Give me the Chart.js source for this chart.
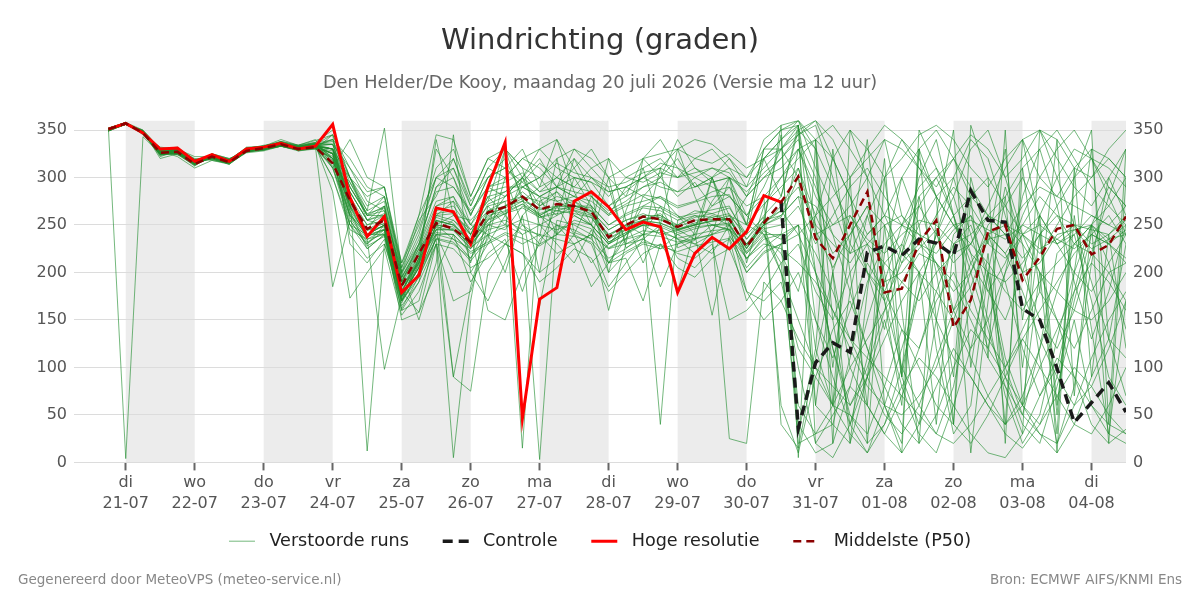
<!DOCTYPE html>
<html>
<head>
<meta charset="utf-8">
<title>Windrichting (graden)</title>
<script src="https://cdn.jsdelivr.net/npm/chart.js@4.4.1/dist/chart.umd.min.js"></script>
<style>
  html, body { margin: 0; padding: 0; background: #fff; }
  #wrap { width: 1200px; height: 600px; }
</style>
</head>
<body>
<div id="wrap"><canvas id="chart" width="1200" height="600"></canvas></div>
<script>
const ctx = document.querySelector('#chart');

// tijd in uren sinds ma 20-07 00:00, om de 6 uur
const firstHour = 18;
const stepHours = 6;
const hresStartHour = 18;
const controlStartHour = 252;

const dayNames = ['di', 'wo', 'do', 'vr', 'za', 'zo', 'ma', 'di', 'wo', 'do', 'vr', 'za', 'zo', 'ma', 'di'];
const dayDates = ['21-07', '22-07', '23-07', '24-07', '25-07', '26-07', '27-07', '28-07', '29-07', '30-07', '31-07', '01-08', '02-08', '03-08', '04-08'];
const yTicks = [0, 50, 100, 150, 200, 250, 300, 350];

const titleText = 'Windrichting (graden)';
const subtitleText = 'Den Helder/De Kooy, maandag 20 juli 2026 (Versie ma 12 uur)';
const footerLeft = 'Gegenereerd door MeteoVPS (meteo-service.nl)';
const footerRight = 'Bron: ECMWF AIFS/KNMI Ens';

// Hoge resolutie (t=18 .. 252)
const hres = [351, 357, 347, 330, 331, 317, 324, 317, 330, 332,
  336, 330, 333, 356, 279, 238, 259, 179, 197, 268,
  264, 230, 290, 337, 46, 172, 184, 275, 285, 269,
  245, 253, 248, 179, 220, 237, 225, 243, 281, 274];

// Controle (t=252 .. 372), daarvoor onder de hoge resolutie
const control = [274, 36, 105, 126, 116, 221, 228, 218, 235, 231,
  218, 286, 255, 253, 162, 150, 99, 42, 63, 84, 53];

// Middelste (P50) (t=18 .. 372)
const p50 = [351, 357, 347, 326, 327, 314, 322, 316, 328, 331,
  335, 330, 332, 315, 276, 246, 255, 186, 220, 252,
  246, 232, 263, 269, 280, 266, 272, 270, 264, 237,
  250, 259, 256, 248, 255, 256, 256, 227, 252, 274,
  301, 236, 215, 250, 285, 179, 183, 232, 255, 142,
  171, 243, 250, 192, 216, 246, 250, 219, 229, 259];

// Verstoorde runs (t=18 .. 372)
const perturbedRuns = [
  [350, 4, 343, 325, 330, 320, 318, 314, 330, 334, 336, 332, 336,
   340, 300, 255, 250, 175, 205, 250, 235, 225,
   255, 280, 300, 270, 285, 260, 250, 230, 240, 255, 262, 245, 250, 260, 255, 230, 250,
   270, 290, 250, 230, 210, 240, 260, 250, 230, 220, 245, 260, 230, 215, 240, 250, 235, 225, 240, 230, 245],
  [352, 356, 349, 320, 325, 312, 325, 320, 327, 330, 338, 328, 330,
   320, 270, 235, 240, 165, 190, 270, 280, 240,
   280, 260, 290, 300, 275, 265, 250, 210, 235, 280, 270, 260, 240, 275, 300, 250, 330,
   350, 355, 60, 40, 20, 90, 150, 80, 30, 10, 60, 120, 200, 90, 40, 20, 80, 150, 60, 30, 20],
  [349, 358, 350, 330, 332, 318, 320, 318, 332, 333, 340, 334, 340,
   310, 260, 245, 270, 195, 230, 290, 300, 250,
   240, 330, 275, 290, 340, 285, 250, 320, 255, 210, 250, 330, 280, 240, 300, 210, 270,
   300, 330, 280, 250, 270, 300, 340, 260, 230, 210, 180, 200, 250, 270, 300, 260, 230, 240, 260, 250, 270],
  [351, 357, 346, 328, 322, 310, 318, 315, 326, 328, 333, 329, 330,
   345, 230, 210, 235, 160, 170, 240, 200, 200,
   230, 260, 240, 250, 230, 210, 245, 200, 220, 230, 225, 240, 230, 220, 250, 180, 170,
   190, 120, 90, 60, 50, 30, 80, 140, 100, 60, 40, 20, 50, 90, 130, 100, 70, 40, 30, 60, 100],
  [350, 356, 348, 322, 328, 314, 324, 318, 328, 332, 334, 331, 332,
   300, 250, 230, 245, 170, 215, 260, 275, 210,
   290, 280, 300, 260, 250, 240, 280, 265, 275, 290, 300, 280, 295, 270, 280, 260, 290,
   330, 345, 355, 300, 230, 200, 170, 210, 250, 280, 300, 240, 180, 150, 200, 260, 300, 330, 320, 290, 270],
  [352, 358, 345, 332, 330, 322, 322, 319, 331, 330, 336, 333, 335,
   335, 310, 275, 265, 200, 240, 300, 310, 260,
   300, 320, 280, 200, 290, 330, 310, 290, 230, 320, 300, 340, 310, 300, 250, 280, 300,
   320, 340, 300, 200, 100, 60, 30, 70, 120, 180, 230, 250, 200, 110, 60, 40, 90, 170, 240, 260, 230],
  [350, 357, 348, 326, 326, 316, 321, 317, 329, 331, 335, 330, 334,
   330, 280, 240, 250, 190, 225, 250, 260, 245,
   265, 270, 285, 270, 280, 275, 265, 245, 255, 262, 255, 250, 260, 258, 262, 235, 255,
   260, 280, 270, 240, 220, 230, 250, 260, 240, 230, 250, 255, 245, 235, 250, 240, 230, 245, 250, 235, 240],
  [351, 357, 347, 324, 327, 315, 323, 316, 328, 329, 334, 330, 331,
   325, 240, 215, 230, 170, 195, 235, 90, 75,
   200, 230, 250, 230, 270, 240, 210, 230, 250, 240, 270, 235, 220, 245, 260, 250, 240,
   210, 40, 10, 20, 80, 150, 210, 230, 200, 150, 110, 90, 60, 40, 70, 120, 180, 230, 250, 230, 210],
  [349, 356, 350, 330, 331, 319, 319, 315, 330, 333, 337, 333, 337,
   315, 295, 260, 265, 185, 210, 340, 260, 255,
   275, 330, 310, 250, 260, 320, 285, 200, 265, 310, 250, 180, 245, 300, 260, 240, 320,
   280, 350, 330, 290, 250, 200, 180, 220, 270, 300, 320, 280, 260, 240, 270, 290, 280, 270, 260, 250, 240],
  [352, 357, 346, 326, 329, 313, 324, 319, 328, 330, 334, 329, 333,
   330, 275, 250, 255, 178, 220, 245, 255, 235,
   260, 265, 275, 260, 270, 268, 262, 240, 248, 255, 258, 246, 250, 254, 257, 228, 250,
   258, 300, 240, 250, 260, 235, 220, 240, 255, 250, 230, 240, 260, 250, 240, 225, 235, 250, 245, 240, 255],
  [350, 358, 347, 329, 324, 317, 320, 314, 327, 332, 336, 332, 334,
   285, 173, 200, 225, 155, 180, 230, 170, 180,
   240, 230, 220, 200, 215, 240, 230, 185, 210, 235, 250, 215, 205, 225, 235, 170, 200,
   230, 20, 30, 60, 100, 130, 160, 190, 220, 210, 190, 150, 110, 80, 50, 30, 20, 60, 110, 150, 180],
  [351, 356, 349, 327, 330, 316, 322, 317, 330, 329, 335, 331, 333,
   340, 320, 290, 280, 210, 250, 310, 330, 280,
   320, 310, 330, 290, 300, 320, 300, 280, 300, 310, 320, 300, 320, 330, 310, 300, 330,
   350, 360, 340, 320, 350, 330, 300, 320, 345, 355, 340, 310, 290, 320, 340, 300, 280, 310, 330, 320, 300],
  [350, 357, 348, 325, 326, 315, 323, 318, 328, 331, 334, 330, 333,
   330, 265, 240, 250, 182, 210, 255, 250, 232,
   262, 268, 278, 266, 270, 270, 264, 238, 250, 258, 256, 248, 255, 256, 255, 228, 252,
   265, 310, 245, 205, 240, 270, 190, 200, 225, 245, 160, 185, 235, 240, 200, 210, 240, 245, 225, 235, 250],
  [349, 356, 347, 330, 329, 319, 321, 316, 329, 332, 336, 333, 336,
   320, 300, 265, 352, 200, 150, 210, 345, 200,
   170, 210, 260, 280, 240, 300, 270, 210, 240, 270, 280, 260, 250, 270, 290, 250, 330,
   330, 355, 200, 120, 50, 20, 40, 100, 180, 240, 280, 330, 350, 300, 240, 200, 150, 90, 40, 20, 35],
  [352, 357, 348, 323, 327, 314, 325, 320, 327, 330, 333, 328, 331,
   310, 250, 225, 240, 168, 200, 235, 230, 215,
   240, 200, 260, 165, 255, 250, 240, 160, 230, 240, 185, 230, 240, 155, 238, 215, 230,
   225, 210, 190, 160, 120, 80, 60, 50, 70, 100, 150, 200, 240, 250, 230, 200, 180, 160, 150, 170, 200],
  [351, 358, 346, 328, 325, 318, 319, 315, 331, 333, 338, 334, 339,
   345, 300, 270, 280, 205, 260, 300, 290, 265,
   290, 300, 320, 310, 290, 280, 300, 285, 290, 300, 315, 310, 300, 290, 280, 260, 240,
   200, 150, 100, 60, 30, 10, 40, 80, 110, 90, 60, 30, 10, 5, 30, 70, 110, 90, 60, 40, 30],
  [350, 357, 349, 326, 331, 316, 322, 317, 329, 330, 335, 331, 332,
   325, 280, 12, 230, 180, 158, 230, 5, 170,
   270, 250, 300, 330, 340, 310, 280, 260, 290, 280, 300, 320, 290, 300, 310, 280, 320,
   340, 360, 310, 270, 220, 260, 300, 340, 320, 280, 250, 230, 270, 310, 340, 350, 320, 290, 270, 300, 330],
  [351, 356, 347, 327, 328, 315, 320, 316, 328, 331, 333, 329, 333,
   300, 245, 235, 98, 175, 205, 245, 245, 230,
   250, 245, 270, 260, 240, 255, 250, 230, 245, 250, 240, 245, 235, 250, 245, 220, 240,
   240, 250, 220, 180, 130, 90, 50, 30, 60, 110, 160, 210, 240, 220, 180, 130, 90, 60, 80, 120, 170],
  [350, 357, 348, 324, 327, 317, 324, 318, 330, 332, 335, 331, 334,
   340, 290, 260, 260, 190, 230, 275, 280, 250,
   285, 290, 290, 280, 290, 280, 275, 260, 270, 275, 280, 270, 275, 285, 290, 270, 280,
   300, 320, 340, 355, 330, 300, 260, 220, 200, 230, 260, 280, 300, 270, 240, 220, 250, 280, 300, 320, 300],
  [352, 357, 347, 329, 326, 314, 321, 315, 327, 329, 334, 330, 332,
   185, 255, 230, 250, 172, 215, 240, 240, 190,
   220, 235, 180, 235, 250, 230, 185, 210, 215, 170, 230, 220, 215, 230, 150, 160, 180,
   210, 230, 180, 150, 200, 230, 210, 190, 170, 200, 220, 230, 210, 180, 160, 190, 210, 230, 220, 200, 210],
  [350, 356, 348, 327, 329, 318, 320, 317, 329, 331, 336, 332, 335,
   330, 290, 260, 270, 195, 225, 265, 270, 245,
   270, 275, 15, 275, 285, 270, 270, 250, 260, 268, 265, 255, 265, 262, 268, 240, 258,
   60, 10, 90, 140, 170, 120, 80, 40, 20, 50, 100, 140, 120, 90, 60, 30, 10, 40, 90, 130, 110],
  [351, 358, 346, 325, 324, 313, 323, 318, 328, 330, 334, 330, 333,
   335, 270, 240, 240, 175, 205, 250, 248, 228,
   255, 262, 272, 258, 265, 262, 258, 232, 242, 250, 250, 242, 248, 250, 250, 222, 246,
   250, 270, 230, 260, 290, 310, 280, 250, 270, 240, 210, 230, 260, 240, 215, 240, 260, 250, 230, 240, 260],
  [349, 357, 349, 331, 330, 319, 321, 316, 330, 332, 337, 333, 336,
   320, 285, 255, 270, 190, 220, 330, 300, 260,
   300, 310, 295, 315, 300, 290, 310, 320, 300, 295, 305, 300, 310, 295, 300, 290, 310,
   330, 350, 360, 320, 280, 240, 260, 300, 330, 350, 320, 290, 260, 280, 310, 330, 350, 320, 290, 270, 300],
  [351, 357, 347, 328, 328, 316, 322, 318, 328, 330, 335, 330, 333,
   325, 260, 240, 245, 150, 158, 200, 240, 220,
   230, 240, 230, 240, 220, 230, 240, 225, 230, 235, 225, 230, 235, 240, 25, 20, 190,
   170, 130, 100, 80, 60, 90, 130, 170, 200, 180, 150, 110, 70, 40, 60, 100, 140, 180, 210, 190, 160],
  [350, 356, 348, 326, 327, 315, 320, 314, 327, 331, 334, 330, 333,
   330, 280, 250, 260, 185, 215, 260, 255, 240,
   160, 150, 200, 230, 240, 260, 250, 230, 240, 250, 40, 255, 260, 250, 245, 230, 255,
   265, 240, 200, 160, 130, 110, 90, 70, 50, 30, 20, 40, 70, 100, 130, 160, 190, 220, 240, 230, 215],
  [352, 358, 348, 325, 330, 317, 324, 319, 330, 332, 336, 331, 334,
   310, 340, 300, 290, 200, 255, 280, 320, 270,
   310, 300, 320, 330, 310, 300, 295, 285, 290, 300, 310, 330, 320, 315, 325, 310, 320,
   340, 355, 20, 50, 80, 60, 30, 10, 40, 80, 120, 90, 60, 30, 15, 40, 70, 100, 80, 50, 30],
  [350, 357, 347, 327, 325, 315, 322, 316, 329, 330, 333, 330, 332,
   320, 250, 240, 250, 170, 200, 240, 235, 215,
   250, 255, 245, 240, 235, 230, 240, 225, 235, 240, 238, 232, 236, 240, 245, 200, 220,
   230, 240, 260, 280, 300, 320, 340, 330, 310, 280, 250, 220, 200, 190, 210, 240, 270, 300, 320, 310, 290],
  [351, 357, 349, 329, 331, 318, 321, 317, 331, 333, 338, 334, 337,
   350, 300, 280, 290, 210, 260, 345, 340, 280,
   320, 330, 310, 300, 320, 330, 320, 300, 310, 320, 325, 330, 340, 335, 320, 300, 320,
   330, 300, 150, 90, 40, 10, 60, 120, 180, 240, 300, 340, 320, 260, 200, 150, 120, 160, 220, 280, 330],
  [350, 356, 346, 324, 326, 314, 323, 318, 327, 329, 333, 329, 331,
   315, 260, 235, 245, 170, 210, 245, 245, 225,
   245, 250, 240, 3, 250, 245, 235, 215, 225, 240, 245, 235, 230, 240, 250, 215, 235,
   240, 60, 30, 40, 110, 190, 230, 250, 240, 210, 160, 120, 150, 200, 240, 260, 230, 200, 180, 210, 240],
  [351, 357, 348, 326, 329, 316, 322, 317, 329, 331, 335, 331, 334,
   325, 275, 245, 255, 180, 215, 255, 90, 185,
   250, 270, 280, 275, 260, 270, 265, 245, 255, 260, 260, 250, 258, 262, 255, 230, 250,
   260, 280, 200, 120, 60, 100, 160, 230, 280, 300, 260, 210, 180, 210, 260, 300, 330, 350, 320, 280, 240],
  [351, 357, 348, 327, 328, 316, 322, 316, 329, 331, 335, 330, 333,
   330, 275, 240, 250, 180, 210, 255, 250, 235,
   265, 275, 280, 260, 270, 275, 260, 240, 250, 255, 260, 245, 250, 255, 260, 225, 250,
   355, 5, 340, 60, 300, 20, 250, 90, 330, 150, 40, 280, 110, 350, 60, 200, 30, 310, 90, 240, 120],
  [350, 356, 347, 325, 327, 315, 321, 317, 328, 330, 334, 330, 332,
   328, 270, 245, 248, 185, 212, 258, 252, 230,
   258, 270, 275, 268, 265, 270, 268, 235, 245, 255, 252, 245, 252, 258, 250, 225, 255,
   345, 30, 120, 330, 200, 60, 300, 160, 20, 260, 350, 100, 220, 40, 310, 180, 340, 70, 250, 20, 300],
  [352, 358, 346, 328, 330, 317, 323, 318, 330, 332, 336, 331, 334,
   335, 285, 255, 262, 192, 222, 262, 265, 240,
   272, 280, 290, 280, 275, 280, 270, 250, 262, 270, 268, 258, 262, 266, 270, 235, 260,
   280, 355, 250, 100, 230, 340, 170, 60, 280, 200, 90, 300, 230, 330, 150, 260, 60, 200, 330, 130, 230],
  [349, 357, 348, 326, 326, 314, 322, 317, 328, 330, 335, 330, 333,
   322, 268, 238, 245, 176, 208, 250, 246, 228,
   252, 262, 268, 258, 262, 265, 258, 232, 242, 250, 248, 240, 246, 250, 252, 220, 244,
   235, 250, 60, 200, 20, 180, 320, 90, 200, 40, 230, 10, 170, 280, 100, 240, 50, 260, 140, 30, 170],
  [351, 357, 347, 325, 329, 317, 321, 317, 328, 331, 334, 330, 333,
   330, 300, 260, 280, 200, 230, 290, 310, 270,
   310, 330, 300, 320, 290, 310, 330, 300, 280, 320, 340, 310, 290, 300, 320, 290, 340,
   355, 360, 330, 20, 350, 300, 60, 10, 330, 280, 40, 355, 300, 20, 340, 250, 10, 300, 350, 40, 330],
  [350, 357, 348, 327, 327, 316, 322, 318, 329, 330, 335, 331, 333,
   325, 265, 225, 240, 160, 190, 230, 225, 205,
   215, 230, 220, 190, 205, 225, 215, 180, 200, 220, 230, 205, 195, 215, 225, 180, 150,
   170, 200, 150, 110, 160, 210, 180, 140, 120, 170, 200, 160, 130, 100, 140, 180, 150, 120, 160, 200, 170],
  [352, 357, 347, 328, 326, 315, 323, 317, 329, 331, 335, 331, 333,
   330, 285, 255, 260, 188, 218, 260, 262, 240,
   280, 285, 300, 285, 300, 290, 285, 270, 280, 290, 295, 285, 290, 295, 300, 260, 280,
   40, 15, 110, 200, 260, 230, 170, 100, 60, 30, 80, 170, 240, 190, 120, 70, 100, 180, 250, 210, 140],
  [350, 356, 348, 326, 328, 316, 321, 316, 328, 330, 334, 330, 332,
   318, 262, 238, 246, 174, 206, 248, 244, 226,
   240, 248, 256, 250, 245, 252, 246, 226, 236, 244, 242, 236, 240, 244, 246, 214, 238,
   220, 180, 260, 320, 280, 200, 140, 220, 300, 340, 260, 180, 120, 200, 280, 330, 270, 190, 130, 180, 250],
  [351, 358, 347, 327, 330, 317, 323, 318, 330, 332, 336, 332, 335,
   338, 295, 265, 275, 198, 235, 285, 290, 262,
   290, 295, 305, 285, 290, 300, 295, 270, 285, 300, 290, 285, 300, 310, 305, 280, 300,
   310, 330, 290, 240, 180, 120, 60, 20, 350, 310, 260, 200, 140, 80, 30, 350, 300, 250, 190, 130, 70],
  [350, 357, 346, 324, 325, 313, 322, 316, 327, 329, 333, 329, 331,
   312, 255, 228, 238, 162, 196, 236, 232, 212,
   235, 300, 250, 238, 320, 242, 236, 300, 226, 236, 310, 226, 234, 300, 240, 205, 226,
   240, 330, 340, 150, 40, 90, 220, 300, 250, 120, 30, 60, 200, 290, 230, 110, 20, 80, 210, 300, 260],
  [351, 357, 349, 329, 329, 318, 320, 317, 330, 332, 337, 333, 336,
   335, 290, 262, 268, 194, 228, 270, 275, 250,
   275, 285, 295, 280, 290, 285, 280, 262, 272, 282, 278, 268, 274, 280, 282, 250, 272,
   290, 310, 260, 220, 240, 270, 250, 210, 230, 260, 290, 270, 240, 220, 250, 280, 260, 230, 250, 270, 250],
  [350, 356, 347, 325, 327, 315, 322, 317, 328, 330, 334, 330, 332,
   326, 272, 244, 252, 180, 212, 254, 250, 232,
   256, 264, 272, 262, 268, 266, 260, 236, 246, 254, 252, 244, 250, 254, 256, 226, 248,
   200, 100, 20, 5, 40, 110, 190, 250, 290, 310, 280, 220, 150, 70, 20, 50, 130, 200, 250, 290, 270],
  [352, 358, 348, 328, 331, 318, 324, 319, 331, 333, 337, 332, 335,
   345, 310, 285, 290, 205, 245, 300, 320, 275,
   300, 310, 290, 300, 315, 305, 300, 290, 295, 305, 310, 300, 305, 310, 300, 285, 305,
   320, 345, 360, 340, 300, 330, 355, 340, 310, 290, 320, 345, 330, 300, 320, 350, 340, 310, 300, 330, 350],
  [349, 356, 348, 325, 326, 314, 321, 316, 328, 330, 334, 329, 332,
   320, 258, 232, 242, 170, 200, 242, 240, 222,
   232, 242, 236, 228, 240, 238, 232, 210, 222, 232, 228, 222, 228, 232, 236, 200, 222,
   230, 250, 120, 60, 180, 260, 200, 90, 40, 150, 240, 260, 190, 100, 50, 120, 220, 240, 170, 90, 60]
];

Chart.defaults.font.family = "'DejaVu Sans', sans-serif";

function toPoints(values, startHour) {
    return values.map((v, i) => ({x: startHour + i * stepHours, y: v}));
}

const memberColor = 'rgba(30, 140, 45, 0.62)';

function memberDataset(values, label) {
    return {
        label: label,
        data: toPoints(values, firstHour),
        borderColor: memberColor,
        backgroundColor: memberColor,
        borderWidth: 1,
        pointRadius: 0,
        order: 10
    };
}

let datasets = [
    memberDataset(perturbedRuns[0], 'Verstoorde runs'),
    {
        label: 'Controle',
        data: toPoints(control, controlStartHour),
        borderColor: '#1a1a1a',
        backgroundColor: '#1a1a1a',
        borderWidth: 3.5,
        borderDash: [10, 6],
        pointRadius: 0,
        order: 3
    },
    {
        label: 'Hoge resolutie',
        data: toPoints(hres, hresStartHour),
        borderColor: '#ff0000',
        backgroundColor: '#ff0000',
        borderWidth: 3,
        pointRadius: 0,
        order: 2
    },
    {
        label: 'Middelste (P50)',
        data: toPoints(p50, firstHour),
        borderColor: '#8b0000',
        backgroundColor: '#8b0000',
        borderWidth: 2.5,
        borderDash: [8, 5],
        pointRadius: 0,
        order: 1
    }
];
for (let i = 1; i < perturbedRuns.length; i++) {
    datasets.push(memberDataset(perturbedRuns[i], ''));
}

// grijze banden voor om-de-dag
const dayBands = {
    id: 'dayBands',
    beforeDraw(chart) {
        const {ctx: c, chartArea: a, scales: {x}} = chart;
        c.save();
        c.beginPath();
        c.rect(a.left, a.top, a.right - a.left, a.bottom - a.top);
        c.clip();
        c.fillStyle = '#ececec';
        dayDates.forEach((d, i) => {
            if (i % 2 !== 0) return;
            const x0 = x.getPixelForValue(24 + i * 24);
            const x1 = x.getPixelForValue(48 + i * 24);
            c.fillRect(x0, a.top, x1 - x0, a.bottom - a.top);
        });
        c.restore();
    }
};

const footer = {
    id: 'footer',
    afterDraw(chart) {
        const c = chart.ctx;
        c.save();
        c.font = "13.5px 'DejaVu Sans'";
        c.fillStyle = '#888';
        c.textBaseline = 'middle';
        c.textAlign = 'left';
        c.fillText(footerLeft, 18, 580);
        c.textAlign = 'right';
        c.fillText(footerRight, 1182, 580);
        c.restore();
    }
};

const yTickOpts = {
    stepSize: 50,
    includeBounds: false,
    padding: 7,
    color: '#555',
    font: {size: 16},
    callback: (v) => yTicks.includes(v) ? String(v) : ''
};

new Chart(ctx, {
    type: 'line',
    data: {datasets: datasets},
    options: {
        responsive: false,
        animation: false,
        layout: {padding: {bottom: 40}},
        elements: {line: {tension: 0}},
        scales: {
            x: {
                type: 'linear',
                min: 6,
                max: 372,
                border: {display: false},
                grid: {drawOnChartArea: false, drawTicks: true, tickLength: 8, tickColor: '#666', tickWidth: 2},
                ticks: {
                    stepSize: 24,
                    includeBounds: false,
                    autoSkip: false,
                    maxRotation: 0,
                    padding: 2,
                    color: '#555',
                    font: {size: 16, lineHeight: 1.3},
                    callback: (v) => {
                        const i = (v - 24) / 24;
                        return dayNames[i] ? [dayNames[i], dayDates[i]] : '';
                    }
                },
                afterFit: (s) => { s.height = 53; }
            },
            y: {
                position: 'left',
                min: 0,
                max: 360,
                border: {display: false},
                grid: {color: '#dcdcdc', drawTicks: false},
                ticks: yTickOpts,
                afterFit: (s) => { s.width = 74; }
            },
            y2: {
                position: 'right',
                min: 0,
                max: 360,
                border: {display: false},
                grid: {display: false, drawTicks: false},
                ticks: yTickOpts,
                afterFit: (s) => { s.width = 74; }
            }
        },
        plugins: {
            tooltip: {enabled: false},
            title: {
                display: true,
                text: titleText,
                color: '#333',
                font: {size: 29, weight: 'normal'},
                padding: {top: 24, bottom: 5}
            },
            subtitle: {
                display: true,
                text: subtitleText,
                color: '#666',
                font: {size: 17.7, weight: 'normal'},
                padding: {top: 8.6, bottom: 26.9}
            },
            legend: {
                position: 'bottom',
                labels: {
                    usePointStyle: true,
                    pointStyle: 'line',
                    pointStyleWidth: 26,
                    padding: 17,
                    color: '#222',
                    font: {size: 17.6},
                    filter: (item) => item.datasetIndex < 4,
                    sort: (a, b) => a.datasetIndex - b.datasetIndex,
                    generateLabels: (chart) => chart.data.datasets.map((ds, i) => ({
                        text: ' ' + ds.label + (i < 3 ? '   ' : ''),
                        datasetIndex: i,
                        fontColor: '#222',
                        strokeStyle: ds.borderColor,
                        fillStyle: ds.borderColor,
                        lineWidth: ds.borderWidth,
                        lineDash: ds.borderDash || [],
                        pointStyle: 'line',
                        hidden: false
                    }))
                }
            }
        }
    },
    plugins: [dayBands, footer]
});
</script>
</body>
</html>
